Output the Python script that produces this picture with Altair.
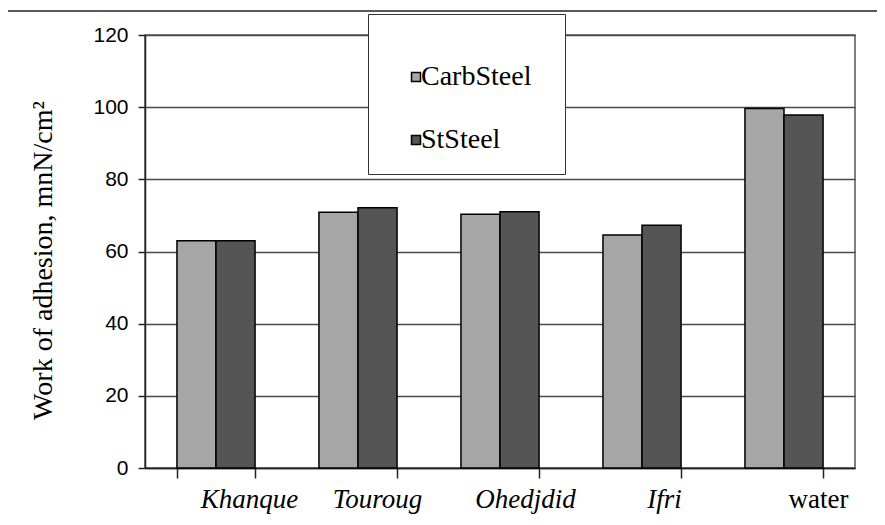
import altair as alt
import pandas as pd

categories = ["Khanque", "Touroug", "Ohedjdid", "Ifri", "water"]
series = ["CarbSteel", "StSteel"]
carb_steel = [63.0, 70.9, 70.3, 64.6, 99.6]
st_steel = [63.0, 72.1, 71.0, 67.3, 97.8]
y_ticks = [0, 20, 40, 60, 80, 100, 120]

rows = []
for i, c in enumerate(categories):
    rows.append({"cat": c, "series": series[0], "value": carb_steel[i]})
    rows.append({"cat": c, "series": series[1], "value": st_steel[i]})
df = pd.DataFrame(rows)

SERIF = "Liberation Serif"
SANS = "Liberation Sans"

# per-label horizontal shift of x tick labels (style)
label_shift = {"Khanque": 33, "Touroug": 19, "Ohedjdid": 25, "Ifri": 22, "water": 34}
shift_expr = " : ".join(
    [f"datum.value == '{k}' ? {v}" for k, v in label_shift.items()]
) + " : 0"

bars = alt.Chart(df).mark_bar(stroke="black", strokeWidth=1.5).encode(
    x=alt.X(
        "cat:N",
        sort=categories,
        scale=alt.Scale(paddingInner=0.45, paddingOuter=0.225),
        axis=alt.Axis(
            title=None,
            labelAngle=0,
            labelFontStyle=alt.ExprRef("datum.value == 'water' ? 'normal' : 'italic'"),
            labelOffset=alt.ExprRef(shift_expr),
            labelPadding=8,
            tickBand="extent",
            tickSize=10,
            tickColor="#222",
            tickWidth=1.5,
            domainColor="#222",
            domainWidth=1.5,
            grid=False,
        ),
    ),
    xOffset=alt.XOffset("series:N", sort=series),
    y=alt.Y(
        "value:Q",
        scale=alt.Scale(domain=[0, 120], nice=False),
        axis=alt.Axis(
            values=y_ticks,
            title="Work of adhesion, mnN/cm²",
            titleFontSize=28,
            titleFontWeight="normal",
            titleColor="black",
            titleX=-88,
            titleY=225,
            labelPadding=10,
            tickSize=7,
            tickColor="#222",
            tickWidth=1.5,
            domainColor="#222",
            domainWidth=1.5,
            gridColor="#4a4a4a",
            gridWidth=1.5,
        ),
    ),
    color=alt.Color(
        "series:N",
        sort=series,
        scale=alt.Scale(domain=series, range=["#a6a6a6", "#555555"]),
        legend=alt.Legend(
            title="M" * 8 + "i",
            titleOpacity=0,
            titleFontSize=20,
            titlePadding=9,
            orient="none",
            legendX=223,
            legendY=-21,
            padding=20,
            rowPadding=35,
            strokeColor="#333",
            fillColor="white",
            labelFontSize=28,
            labelColor="black",
            symbolType="square",
            symbolSize=81,
            symbolStrokeColor="black",
            symbolStrokeWidth=1.5,
            symbolOffset=14,
            labelOffset=alt.ExprRef("-9"),
        ),
    ),
)

frame = alt.Chart(pd.DataFrame({"f": [0]})).mark_rect(
    filled=False, stroke="#222", strokeWidth=1.5
).encode(
    x=alt.value(-138), x2=alt.value(760), y=alt.value(-24), y2=alt.value(520)
)

chart = (
    alt.layer(frame, bars)
    .properties(
        width=710,
        height=433,
        autosize=alt.AutoSizeParams(type="none"),
        padding={"left": 137, "top": 27, "right": 22, "bottom": 49},
        background="white",
    )
    .configure(font=SERIF)
    .configure_view(stroke="#555", strokeWidth=1.5)
    .configure_axisX(labelFont=SERIF, labelFontSize=27, labelColor="black")
    .configure_axisY(labelFont=SANS, labelFontSize=21, labelColor="black", titleFont=SERIF)
    .configure_legend(labelFont=SERIF, titleFont=SERIF)
)

chart.save("out.html", embed_options={"renderer": "svg", "actions": False})
